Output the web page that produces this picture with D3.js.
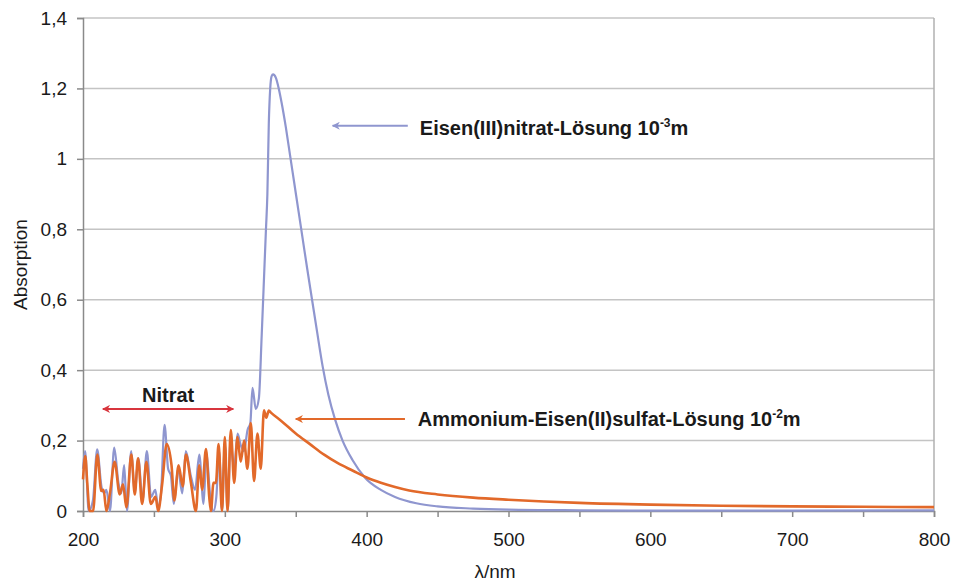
<!DOCTYPE html>
<html lang="de">
<head>
    <meta charset="UTF-8">
    <title>Absorption Eisen-Lösungen</title>
    <script src="https://d3js.org/d3.v7.min.js"></script>
    <style>
        body { margin: 0; background: #fff; }
        text { font-family: Arial, "Liberation Sans", sans-serif; fill: #1a1a1a; }
    </style>
</head>
<body>
<script>
    // wavelength (nm) and absorption values
    var nitratWl = [200, 201.5, 204, 207, 210, 213, 215, 216.5, 219, 222, 225, 227, 229, 231, 234, 236.5, 239, 242, 245, 248, 251, 253, 255, 257.5, 260, 262, 264, 267, 270, 272.5, 276, 279, 282, 285, 287, 290, 292, 294, 296, 298, 300, 302, 304, 306.5, 309, 311, 313.5, 316, 318, 319.5, 321.8, 324, 326, 328, 329, 330, 331, 332, 333, 334, 336, 338, 340, 343, 346, 349, 352, 355, 358, 361.5, 365, 369, 373, 377.7, 383, 390, 399, 410, 420, 435, 450, 475, 500, 550, 600, 700, 800];
    var nitratAbs = [0.12, 0.17, 0, 0.03, 0.175, 0.07, 0.05, 0.06, 0, 0.18, 0.08, 0.05, 0.13, 0, 0.17, 0.05, 0.15, 0.03, 0.17, 0.04, 0.06, 0.01, 0.05, 0.245, 0.12, 0.1, 0.02, 0.12, 0.05, 0.17, 0.1, 0.06, 0.16, 0.02, 0.16, 0.03, 0, 0.04, 0.17, 0, 0.19, 0, 0.2, 0.12, 0.22, 0.19, 0.17, 0.23, 0.25, 0.35, 0.29, 0.32, 0.5, 0.7, 0.8, 0.9, 1.1, 1.2, 1.235, 1.24, 1.23, 1.2, 1.16, 1.09, 1.01, 0.93, 0.85, 0.77, 0.69, 0.6, 0.51, 0.41, 0.33, 0.26, 0.2, 0.145, 0.094, 0.06, 0.04, 0.022, 0.013, 0.007, 0.004, 0.002, 0.001, 0.001, 0.002];

    var sulfatWl = [200, 201.6, 203, 204.7, 207.1, 210.1, 212.9, 214.5, 216.5, 219, 222.3, 225.9, 228.2, 230.6, 234.1, 236.5, 238.8, 241.7, 244.7, 247.8, 251.1, 253, 255.8, 259, 262.4, 264.4, 267.4, 270.3, 272.6, 276.1, 279.6, 282, 284, 286.7, 289, 290.2, 292, 293.7, 295.6, 298, 300, 301.9, 304.2, 306.6, 308.9, 311.2, 313.6, 315.9, 318.3, 320.6, 323, 325.3, 327.6, 329.2, 331, 332.3, 340, 350, 360, 370, 380, 390, 400, 410, 420, 430, 450, 475, 500, 550, 600, 650, 700, 750, 800];
    var sulfatAbs = [0.09, 0.156, 0.08, 0, 0, 0.16, 0.057, 0.06, 0, 0.05, 0.14, 0.047, 0.076, 0.01, 0.16, 0.047, 0.15, 0.02, 0.14, 0.02, 0.04, 0, 0.076, 0.19, 0.13, 0.03, 0.13, 0.07, 0.16, 0.08, 0, 0.13, 0.06, 0.176, 0.04, 0, 0.08, 0.08, 0.19, 0, 0.21, 0, 0.23, 0.08, 0.21, 0.14, 0.2, 0.12, 0.25, 0.085, 0.22, 0.12, 0.286, 0.265, 0.285, 0.28, 0.255, 0.22, 0.19, 0.16, 0.135, 0.115, 0.095, 0.08, 0.068, 0.058, 0.047, 0.038, 0.032, 0.023, 0.018, 0.015, 0.013, 0.012, 0.011];

    var xTicks = [200, 250, 300, 350, 400, 450, 500, 550, 600, 650, 700, 750, 800];
    var yTicks = [0, 0.2, 0.4, 0.6, 0.8, 1, 1.2, 1.4];

    var w = 953;
    var h = 582;
    var margin = {top: 18, right: 19, bottom: 71, left: 83};

    var blue = "#8f96cf";
    var orange = "#e2692a";
    var red = "#d8353d";

    var x = d3.scaleLinear()
        .domain([200, 800])
        .range([margin.left, w - margin.right]);

    var y = d3.scaleLinear()
        .domain([0, 1.4])
        .range([h - margin.bottom, margin.top]);

    var svg = d3.select("body")
        .append("svg")
        .attr("width", w)
        .attr("height", h);

    var defs = svg.append("defs");
    function marker(id, col) {
        defs.append("marker")
            .attr("id", id)
            .attr("viewBox", "0 0 10 10")
            .attr("refX", 9)
            .attr("refY", 5)
            .attr("markerWidth", 5)
            .attr("markerHeight", 4)
            .attr("orient", "auto-start-reverse")
            .append("path")
            .attr("d", "M0,0 L10,5 L0,10 L3,5 Z")
            .attr("fill", col);
    }
    marker("arrBlue", blue);
    marker("arrOrange", orange);
    marker("arrRed", red);

    // grid lines
    svg.append("g")
        .selectAll("line")
        .data(yTicks.slice(1))
        .enter()
        .append("line")
        .attr("x1", x(200))
        .attr("x2", x(800))
        .attr("y1", function(d) { return y(d); })
        .attr("y2", function(d) { return y(d); })
        .attr("stroke", "#c4c4c4")
        .attr("stroke-width", 1.5);

    // right frame
    svg.append("line")
        .attr("x1", x(800)).attr("x2", x(800))
        .attr("y1", y(0)).attr("y2", y(1.4))
        .attr("stroke", "#b0b0b0")
        .attr("stroke-width", 1.5);

    var yAxis = svg.append("g")
        .attr("transform", "translate(" + margin.left + ",0)")
        .call(d3.axisLeft(y)
            .tickValues(yTicks)
            .tickSize(6)
            .tickPadding(10)
            .tickFormat(function(d) { return String(d).replace(".", ","); }));

    var xAxis = svg.append("g")
        .attr("transform", "translate(0," + y(0) + ")")
        .call(d3.axisBottom(x)
            .tickValues(xTicks)
            .tickSize(6)
            .tickPadding(16)
            .tickFormat(function(d) { return d % 100 === 0 ? d : ""; }));

    [xAxis, yAxis].forEach(function(a) {
        a.select(".domain").attr("stroke", "#8a8a8a").attr("stroke-width", 1.5);
        a.selectAll(".tick line").attr("stroke", "#8a8a8a").attr("stroke-width", 1.5);
        a.selectAll(".tick text")
            .style("font-size", "19px")
            .style("font-family", "Arial, 'Liberation Sans', sans-serif")
            .attr("fill", "#1a1a1a");
    });

    var line = d3.line()
        .x(function(d) { return x(d[0]); })
        .y(function(d) { return y(d[1]); })
        .curve(d3.curveMonotoneX);

    var nitrat = d3.zip(nitratWl, nitratAbs);
    var sulfat = d3.zip(sulfatWl, sulfatAbs);

    svg.append("path")
        .datum(nitrat)
        .attr("fill", "none")
        .attr("stroke", blue)
        .attr("stroke-width", 2.2)
        .attr("d", line);

    svg.append("path")
        .datum(sulfat)
        .attr("fill", "none")
        .attr("stroke", orange)
        .attr("stroke-width", 2.6)
        .attr("d", line);

    // axis titles
    svg.append("text")
        .attr("x", 495)
        .attr("y", 578)
        .attr("text-anchor", "middle")
        .style("font-size", "19px")
        .text("λ/nm");

    svg.append("text")
        .attr("transform", "translate(27," + y(0.7) + ") rotate(-90)")
        .attr("text-anchor", "middle")
        .style("font-size", "19px")
        .text("Absorption");

    // annotations
    svg.append("line")
        .attr("x1", x(306)).attr("x2", x(214))
        .attr("y1", y(0.29)).attr("y2", y(0.29))
        .attr("stroke", red)
        .attr("stroke-width", 2)
        .attr("marker-start", "url(#arrRed)")
        .attr("marker-end", "url(#arrRed)");

    svg.append("text")
        .attr("x", x(260))
        .attr("y", y(0.29) - 7)
        .attr("text-anchor", "middle")
        .style("font-size", "20px")
        .style("font-weight", "bold")
        .text("Nitrat");

    svg.append("line")
        .attr("x1", x(429)).attr("x2", x(376))
        .attr("y1", y(1.094)).attr("y2", y(1.094))
        .attr("stroke", blue)
        .attr("stroke-width", 2)
        .attr("marker-end", "url(#arrBlue)");

    var t1 = svg.append("text")
        .attr("x", x(437.5))
        .attr("y", y(1.094) + 9)
        .style("font-size", "20px")
        .style("font-weight", "bold");
    t1.append("tspan").text("Eisen(III)nitrat-Lösung 10");
    t1.append("tspan").attr("dy", -8).style("font-size", "12px").text("-3");
    t1.append("tspan").attr("dy", 8).text("m");

    svg.append("line")
        .attr("x1", x(427)).attr("x2", x(350))
        .attr("y1", y(0.261)).attr("y2", y(0.261))
        .attr("stroke", orange)
        .attr("stroke-width", 2)
        .attr("marker-end", "url(#arrOrange)");

    var t2 = svg.append("text")
        .attr("x", x(436))
        .attr("y", y(0.261) + 7)
        .style("font-size", "20px")
        .style("font-weight", "bold");
    t2.append("tspan").text("Ammonium-Eisen(II)sulfat-Lösung 10");
    t2.append("tspan").attr("dy", -8).style("font-size", "12px").text("-2");
    t2.append("tspan").attr("dy", 8).text("m");
</script>
</body>
</html>
